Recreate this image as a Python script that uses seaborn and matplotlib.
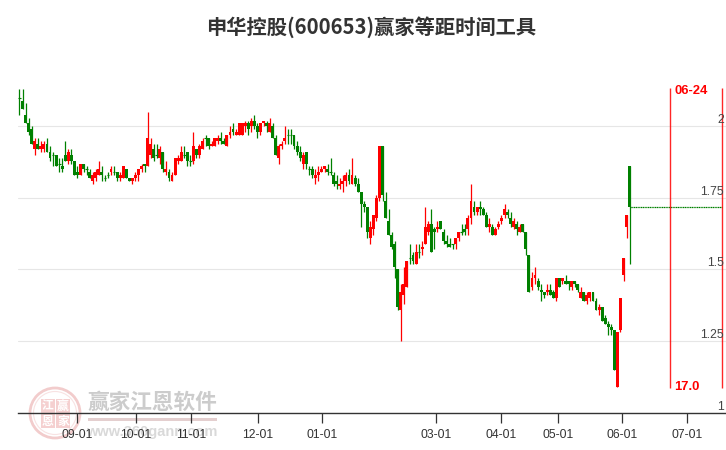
import numpy as np
import pandas as pd
import matplotlib
matplotlib.use("Agg")
import matplotlib.pyplot as plt
from matplotlib.patches import Circle, Rectangle
import seaborn as sns

# prices in fen (1/100 yuan), one entry per trading day
opens = [210,209,204,201,199,192,194,192,192,194,
         191,190,190,187,186,190,188,190,188,184,
         183,187,185,184,181,182,183,184,182,183,
         184,184,184,182,182,185,182,181,182,183,
         185,187,186,190,192,190,189,191,184,184,
         181,183,188,188,190,191,188,188,192,190,
         192,196,196,193,193,195,196,195,193,197,
         199,197,197,197,200,201,200,202,200,198,
         201,201,198,200,196,189,193,195,197,197,
         197,193,191,187,191,185,185,182,183,184,
         185,185,184,183,181,179,180,181,183,180,
         182,180,177,173,172,161,164,168,175,193,
         174,167,162,159,150,136,141,144,154,155,
         152,156,157,159,163,166,164,164,167,163,
         160,159,159,159,161,163,164,164,168,172,
         170,172,171,169,165,165,162,165,167,169,
         170,168,165,166,163,166,163,155,144,147,
         146,143,142,142,143,142,140,147,146,146,
         146,144,146,145,140,142,139,140,142,139,
         136,137,133,131,130,129,109,129,148,165,
         186]
closes = [210,206,201,198,194,195,192,193,194,191,
          189,190,186,187,185,188,191,188,183,183,
          187,185,185,182,183,184,185,183,182,183,
          185,184,182,183,186,182,181,182,183,185,
          186,186,196,194,189,190,192,185,185,182,
          183,189,189,191,190,188,188,193,190,193,
          195,196,193,194,196,196,195,194,197,198,
          198,198,201,201,201,199,202,200,198,201,
          202,200,201,196,190,193,194,196,197,197,
          193,191,189,190,187,185,183,183,184,185,
          186,184,184,180,180,180,181,183,181,183,
          180,177,173,172,163,165,169,175,193,176,
          168,162,158,151,137,142,145,153,154,153,
          156,156,158,165,166,156,163,165,164,160,
          159,158,159,161,163,163,163,168,174,170,
          172,171,169,165,166,162,164,166,168,171,
          169,166,167,164,165,163,157,142,147,148,
          144,142,141,143,141,140,147,144,147,145,
          145,146,145,143,142,139,141,142,139,136,
          137,132,131,130,129,115,128,140,154,169,
          172]
highs = [213,213,208,203,200,196,196,195,195,196,
         193,191,190,189,189,195,192,192,188,186,
         187,187,186,185,184,185,188,186,183,184,
         186,186,184,184,186,185,182,182,184,185,
         187,187,205,196,194,194,193,191,188,185,
         184,189,190,193,193,191,190,198,192,194,
         196,197,196,195,196,197,198,196,197,200,
         201,199,201,201,202,202,203,204,201,201,
         202,202,203,201,197,194,195,200,199,199,
         197,195,193,191,191,186,186,185,186,186,
         186,187,189,184,183,182,183,184,185,189,
         183,182,177,174,172,167,169,176,193,193,
         177,171,163,160,150,145,151,153,159,156,
         159,159,160,172,167,171,165,167,167,164,
         162,161,159,161,163,166,166,169,180,174,
         172,174,172,170,168,166,165,167,169,173,
         171,170,168,167,166,166,163,155,149,151,
         147,145,142,145,145,143,147,147,147,148,
         146,146,146,145,144,142,142,142,142,140,
         138,137,134,132,131,129,128,140,154,169,
         186]
lows = [204,206,201,197,194,190,192,191,191,191,
        188,186,186,184,184,188,187,187,183,182,
        183,184,183,182,180,181,183,181,181,182,
        183,183,181,181,182,182,181,180,181,181,
        184,184,186,189,188,189,187,184,183,181,
        181,183,187,188,189,186,186,187,189,189,
        192,193,192,193,193,194,194,194,193,196,
        197,197,197,197,198,197,198,199,196,197,
        200,198,198,196,190,187,192,194,194,194,
        192,190,188,185,185,183,182,180,181,184,
        184,183,183,179,178,178,177,179,180,180,
        179,177,165,170,161,159,162,167,174,174,
        168,162,157,147,136,125,138,144,152,152,
        152,154,155,159,162,156,157,163,164,159,
        158,158,157,157,160,162,162,162,166,169,
        169,169,169,165,163,162,162,164,166,168,
        168,165,164,162,163,163,155,142,143,145,
        143,139,140,141,141,140,139,144,145,145,
        143,143,144,142,140,139,138,139,139,136,
        134,132,131,127,127,115,109,128,146,161,
        152]

date_ticks = [18.9, 38.2, 56.2, 78.2, 99.2, 136.6, 157.9, 176.6, 197.5, 218.8]
date_labels = ["09-01", "10-01", "11-01", "12-01", "01-01", "03-01", "04-01", "05-01", "06-01", "07-01"]
price_ticks = [1, 1.25, 1.5, 1.75, 2]
price_labels = ["1", "1.25", "1.5", "1.75", "2"]
gann_days = [213.3, 230.3]
last_close = 1.72

sns.set_theme(style="white")
cjk = ["Noto Sans CJK SC", "DejaVu Sans"]
plt.rcParams["font.family"] = ["Liberation Sans", "DejaVu Sans"]

df = pd.DataFrame({"open": opens, "close": closes, "high": highs, "low": lows}) / 100
df["day"] = np.arange(len(df))
df["up"] = df["close"] > df["open"]
df["flat"] = df["close"] == df["open"]
df["colour"] = np.where(df["up"], "#ff0000", "#008000")

W, H = 726, 450
fig = plt.figure(figsize=(W / 100, H / 100), dpi=100, facecolor="white")

# overlay in pixels for the watermark and the title
bg = fig.add_axes([0, 0, 1, 1], zorder=0)
bg.set_xlim(0, W)
bg.set_ylim(H, 0)
bg.axis("off")
bg.add_patch(Circle((55, 413), 25, fill=False, ec="#f2cccc", lw=2))
bg.add_patch(Circle((55, 413), 21.5, fill=False, ec="#f8e2e2", lw=0.8))
for (sx, sy, ch) in [(41, 399, "江"), (56, 399, "赢"), (41, 414, "恩"), (56, 414, "家")]:
    bg.add_patch(Rectangle((sx, sy), 14, 14, fc="#f5d0d0", ec="none"))
    bg.text(sx + 7, sy + 7, ch, color="white", fontsize=8.5, fontweight="bold", family=cjk,
            ha="center", va="center")
bg.text(152.5, 402, "赢家江恩软件", color="#cccccc", fontsize=15.6, fontweight="bold", family=cjk,
        ha="center", va="center")
bg.add_patch(Rectangle((88, 418), 129, 2.5, fc="#e4cfcf", ec="none"))
bg.text(152, 432, "www.360gann.com", color="#d9d9d9", fontsize=10.5, fontweight="bold", ha="center", va="center")
bg.text(371.5, 27, "申华控股(600653)赢家等距时间工具", color="#333333", fontsize=14.6, fontweight="bold",
        family=cjk, ha="center", va="center")

ax = fig.add_axes([18 / W, (H - 412.6) / H, (W - 18) / W, (412.6 - 88) / H], zorder=1)
ax.patch.set_alpha(0)
ax.set_xlim(-0.49, 231.6)
ax.set_ylim(1, 2.134)

ax.set_yticks(price_ticks)
ax.set_yticklabels([])
ax.grid(axis="y", color="#e6e6e6", lw=0.8)
ax.set_axisbelow(True)
ax.tick_params(axis="y", length=0)
for v, lab in zip(price_ticks, price_labels):
    ax.annotate(lab, (1, v), xycoords=("axes fraction", "data"), xytext=(-1.5, 0), textcoords="offset points",
                ha="right", va="bottom", fontsize=8.8, color="#444444", annotation_clip=False)

ax.vlines(df["day"], df["low"], df["high"], colors=df["colour"], lw=0.9)
solid = df[~df["flat"]]
ax.bar(solid["day"], (solid["close"] - solid["open"]).abs(), bottom=solid[["open", "close"]].min(axis=1),
       width=0.95, color=solid["colour"], lw=0)
flat = df[df["flat"]]
ax.hlines(flat["close"], flat["day"] - 0.45, flat["day"] + 0.45, colors=flat["colour"], lw=0.8)

# projected close carried out to the last gann line
sns.lineplot(x=[df["day"].iloc[-1], gann_days[1]], y=[last_close, last_close], ax=ax, color="#008000",
             lw=0.9, ls=(0, (1, 0.4)), errorbar=None)
ax.vlines(gann_days, 1.085, 2.134, colors="#ff0000", lw=1, alpha=0.85)
ax.text(gann_days[0] + 1.4, 2.125, "06-24", color="#ff0000", fontsize=9.4, fontweight="bold", va="center")
ax.text(gann_days[0] + 1.4, 1.09, "17.0", color="#ff0000", fontsize=9.4, fontweight="bold", va="center")

ax.set_xticks(date_ticks)
ax.set_xticklabels(date_labels, fontsize=8.7, color="#333333")
ax.tick_params(axis="x", length=7, width=0.9, color="#333333", pad=5, bottom=True)
sns.despine(ax=ax, left=True, top=True, right=True)
ax.spines["bottom"].set_color("#333333")
ax.spines["bottom"].set_linewidth(1)

fig.savefig("out.png", dpi=100)
